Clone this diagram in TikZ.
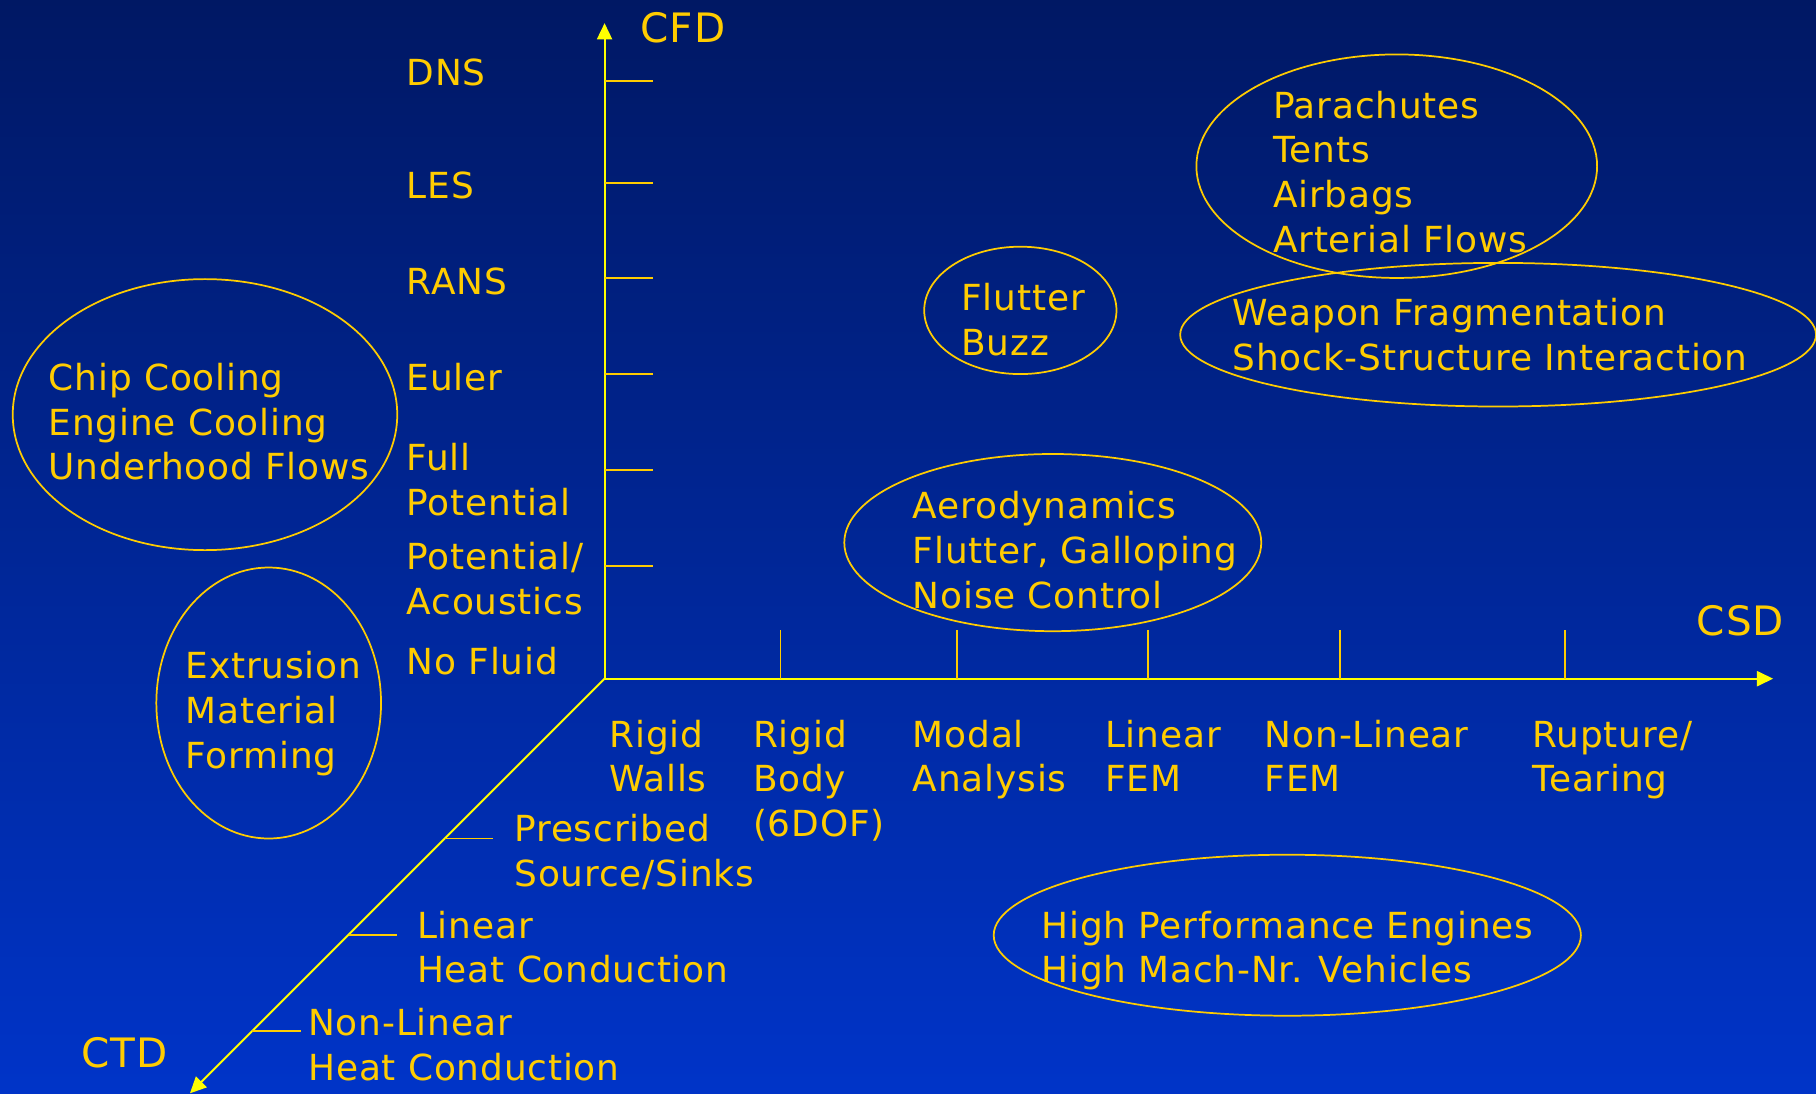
\documentclass[tikz,border=0pt]{standalone}
\usepackage{fontspec}
\setmainfont{DejaVu Sans}[LetterSpace=2.3]
\usetikzlibrary{arrows.meta,shapes.geometric}
\definecolor{bgtop}{RGB}{0,24,100}
\definecolor{bgbot}{RGB}{0,52,200}
\definecolor{gold}{RGB}{255,204,0}
\definecolor{axisyellow}{RGB}{255,255,0}
\begin{document}
\begin{tikzpicture}[x=1pt,y=-1pt,
  % multi-line labels sit on the baseline of their last line
  lbl/.style={anchor=base west,inner sep=0pt,align=left,text=gold,
    font=\fontsize{31}{38.7}\selectfont},
  axlbl/.style={anchor=base west,inner sep=0pt,text=gold,
    font=\fontsize{35}{42}\selectfont},
  axisline/.style={draw=axisyellow,line width=1.8pt,
    -{Triangle[length=14pt,width=13pt]}},
  tick/.style={draw=gold,line width=1.5pt},
  bubble/.style={draw=gold,line width=1.5pt,ellipse,inner sep=0pt}]
% background
\shade[top color=bgtop,bottom color=bgbot] (0,0) rectangle (1568,944);
\useasboundingbox (0,0) rectangle (1568,944);

% axes
\coordinate (O) at (522,586);
\coordinate (cfdtip) at (522,20);
\coordinate (csdtip) at (1531,586);
\coordinate (ctdtip) at (164,944);
\draw[axisline] (O) -- (cfdtip);
\draw[axisline] (O) -- (csdtip);
\draw[axisline] (O) -- (ctdtip);

% ticks on the CFD axis
\foreach \y in {70,158,240,323,406,489}
  \draw[tick] (522,\y) -- ++(42,0);
% ticks on the CSD axis
\foreach \x in {674,826,991,1157,1351}
  \draw[tick] (\x,586) -- ++(0,-42);
% ticks on the CTD axis
\foreach \d in {138,221,304}
  \draw[tick] (522-\d,586+\d) -- ++(42,0);

% axis names
\node[axlbl] (cfd) at (553,37) {CFD};
\node[axlbl] (csd) at (1465,549) {CSD};
\node[axlbl] (ctd) at (70,922) {CTD};

% fluid levels
\node[lbl] (dns) at (351,74) {DNS};
\node[lbl] (les) at (351,171) {LES};
\node[lbl] (rans) at (351,254) {RANS};
\node[lbl] (euler) at (351,337) {Euler};
\node[lbl] (fullpot) at (351,444.7) {Full\\Potential};
\node[lbl] (acoust) at (351,530.7) {Potential/\\Acoustics};
\node[lbl] (nofluid) at (351,582) {No Fluid};

% structure levels
\node[lbl] (rigidw) at (526,683.7) {Rigid\\Walls};
\node[lbl] (rigidb) at (650,722.4) {Rigid\\Body\\(6DOF)};
\node[lbl] (modal) at (788,683.7) {Modal\\Analysis};
\node[lbl] (linfem) at (954,683.7) {Linear\\FEM};
\node[lbl] (nlfem) at (1092,683.7) {Non-Linear\\FEM};
\node[lbl] (rupture) at (1323,683.7) {Rupture/\\Tearing};

% thermal levels
\node[lbl] (presc) at (444,765.7) {Prescribed\\Source/Sinks};
\node[lbl] (linheat) at (360,848.7) {Linear\\Heat Conduction};
\node[lbl] (nlheat) at (266,932.7) {Non-Linear\\Heat Conduction};

% application areas
\node[bubble,minimum width=332pt,minimum height=234pt] (chipE) at (177,358) {};
\node[lbl] (chip) at (42,414.4) {Chip Cooling\\Engine Cooling\\Underhood Flows};

\node[bubble,minimum width=194pt,minimum height=234pt] (extrE) at (232,607) {};
\node[lbl] (extr) at (160,663.4) {Extrusion\\Material\\Forming};

\node[bubble,minimum width=346pt,minimum height=193pt] (paraE) at (1206,143.5) {};
\node[lbl] (para) at (1099,218.1) {Parachutes\\Tents\\Airbags\\Arterial Flows};

\node[bubble,minimum width=166pt,minimum height=110pt] (flutE) at (881,268) {};
\node[lbl] (flut) at (830,306.7) {Flutter\\Buzz};

\node[bubble,minimum width=549pt,minimum height=124pt] (weapE) at (1293.5,289) {};
\node[lbl] (weap) at (1064,319.7) {Weapon Fragmentation\\Shock-Structure Interaction};

\node[bubble,minimum width=360pt,minimum height=153pt] (aeroE) at (909,468.5) {};
\node[lbl] (aero) at (788,525.4) {Aerodynamics\\Flutter, Galloping\\Noise Control};

\node[bubble,minimum width=507pt,minimum height=139pt] (hpE) at (1111.5,807.5) {};
\node[lbl] (hp) at (899,848.7) {High Performance Engines\\High Mach-Nr. Vehicles};
\end{tikzpicture}
\end{document}
